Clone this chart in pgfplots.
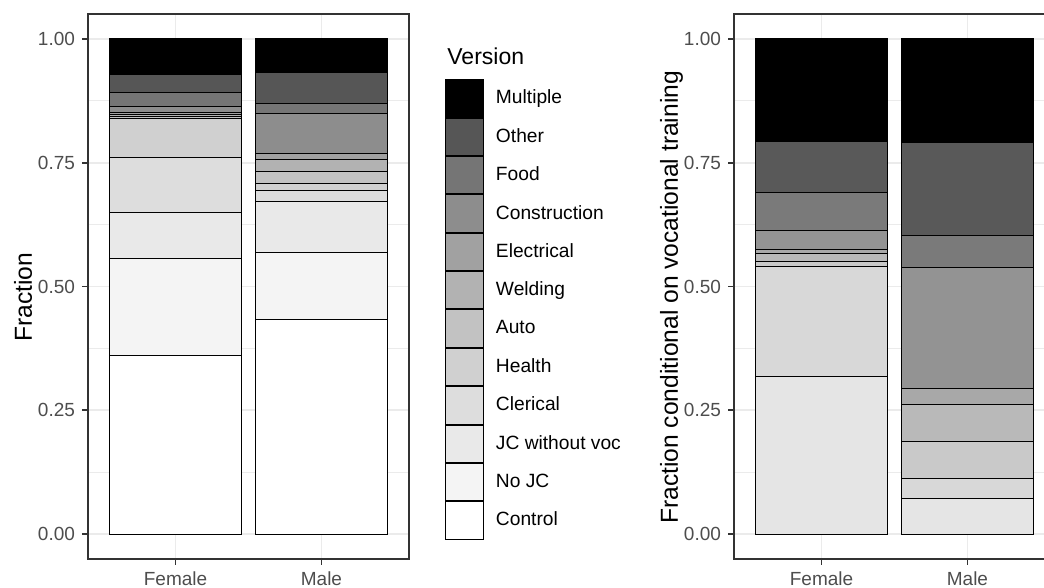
\documentclass[border=0pt]{standalone}
\usepackage{pgfplots}
\pgfplotsset{compat=1.18}
\usepackage{fontspec}
\setmainfont{Liberation Sans}

\definecolor{grey20}{RGB}{51,51,51}
\definecolor{grey30}{RGB}{77,77,77}
\definecolor{grey92}{RGB}{235,235,235}
% left panel fills, 12 levels
\definecolor{aMul}{RGB}{0,0,0}
\definecolor{aOth}{RGB}{86,86,86}
\definecolor{aFoo}{RGB}{117,117,117}
\definecolor{aCon}{RGB}{141,141,141}
\definecolor{aEle}{RGB}{161,161,161}
\definecolor{aWel}{RGB}{178,178,178}
\definecolor{aAut}{RGB}{194,194,194}
\definecolor{aHea}{RGB}{208,208,208}
\definecolor{aCle}{RGB}{221,221,221}
\definecolor{aJCv}{RGB}{233,233,233}
\definecolor{aNoJ}{RGB}{244,244,244}
\definecolor{aCtl}{RGB}{255,255,255}
% right panel fills, 9 levels
\definecolor{bMul}{RGB}{0,0,0}
\definecolor{bOth}{RGB}{89,89,89}
\definecolor{bFoo}{RGB}{122,122,122}
\definecolor{bCon}{RGB}{147,147,147}
\definecolor{bEle}{RGB}{168,168,168}
\definecolor{bWel}{RGB}{185,185,185}
\definecolor{bAut}{RGB}{201,201,201}
\definecolor{bHea}{RGB}{216,216,216}
\definecolor{bCle}{RGB}{229,229,229}

\pgfplotsset{
  panel/.style={
    scale only axis, width=160.5pt, height=272.5pt, anchor=south west,
    xmin=0.4, xmax=2.6, ymin=-0.05, ymax=1.05,
    ybar stacked, bar width=0.9,
    xtick={1,2}, xticklabels={Female,Male},
    ytick={0,0.25,0.5,0.75,1}, yticklabels={0.00,0.25,0.50,0.75,1.00},
    minor ytick={0.125,0.375,0.625,0.875},
    grid=both,
    major grid style={grey92, line width=0.9pt},
    minor grid style={grey92, line width=0.45pt},
    tick align=outside, major tick length=3pt, minor tick length=0pt,
    xtick pos=left, ytick pos=left,
    axis line style={grey20, line width=0.9pt},
    tick style={grey20, line width=0.9pt},
    ticklabel style={font=\fontsize{9.5}{11}\selectfont, text=grey30},
    every axis y label/.style={at={(axis description cs:-0.1745,0.48)}, rotate=90,
      anchor=base, font=\fontsize{12.3}{14}\selectfont},
    every axis plot/.append style={draw=black, line width=0.5pt},
  }
}

\begin{document}
\begin{tikzpicture}
\begin{axis}[panel, at={(44pt,14.5pt)}, ylabel={Fraction},
  legend style={at={(axis description cs:1.1121,0.8802)}, anchor=north west,
    draw=none, fill=none, inner sep=0pt, outer sep=0pt, row sep=0pt,
    font=\fontsize{9.6}{11}\selectfont, nodes={inner sep=0pt},
    /tikz/every odd column/.append style={column sep=6pt}},
  legend cell align=left, reverse legend,
  legend image code/.code={\draw[#1] (0pt,-9.34pt) rectangle (19pt,9.34pt);},
]
\addplot[fill=aCtl] coordinates {(1,0.360) (2,0.434)};
\addplot[fill=aNoJ] coordinates {(1,0.196) (2,0.135)};
\addplot[fill=aJCv] coordinates {(1,0.093) (2,0.102)};
\addplot[fill=aCle] coordinates {(1,0.112) (2,0.0237)};
\addplot[fill=aHea] coordinates {(1,0.078) (2,0.0135)};
\addplot[fill=aAut] coordinates {(1,0.0035) (2,0.0247)};
\addplot[fill=aWel] coordinates {(1,0.0056) (2,0.0240)};
\addplot[fill=aEle] coordinates {(1,0.0028) (2,0.0109)};
\addplot[fill=aCon] coordinates {(1,0.0133) (2,0.0806)};
\addplot[fill=aFoo] coordinates {(1,0.0270) (2,0.0207)};
\addplot[fill=aOth] coordinates {(1,0.0362) (2,0.0622)};
\addplot[fill=aMul] coordinates {(1,0.0726) (2,0.0687)};
\legend{Control,No JC,JC without voc,Clerical,Health,Auto,Welding,Electrical,Construction,Food,Other,Multiple}
\end{axis}
\node[anchor=base west, inner sep=0pt, font=\fontsize{11.5}{13}\selectfont] at (223.5pt,261.5pt) {Version};

\begin{axis}[panel, at={(367pt,14.5pt)}, ylabel={Fraction conditional on vocational training}]
\addplot[fill=bCle] coordinates {(1,0.318) (2,0.072)};
\addplot[fill=bHea] coordinates {(1,0.223) (2,0.041)};
\addplot[fill=bAut] coordinates {(1,0.010) (2,0.075)};
\addplot[fill=bWel] coordinates {(1,0.016) (2,0.073)};
\addplot[fill=bEle] coordinates {(1,0.008) (2,0.033)};
\addplot[fill=bCon] coordinates {(1,0.038) (2,0.245)};
\addplot[fill=bFoo] coordinates {(1,0.077) (2,0.063)};
\addplot[fill=bOth] coordinates {(1,0.103) (2,0.189)};
\addplot[fill=bMul] coordinates {(1,0.207) (2,0.209)};
\end{axis}
\pgfresetboundingbox
\path (0pt,0pt) rectangle (522pt,294pt);
\end{tikzpicture}
\end{document}
